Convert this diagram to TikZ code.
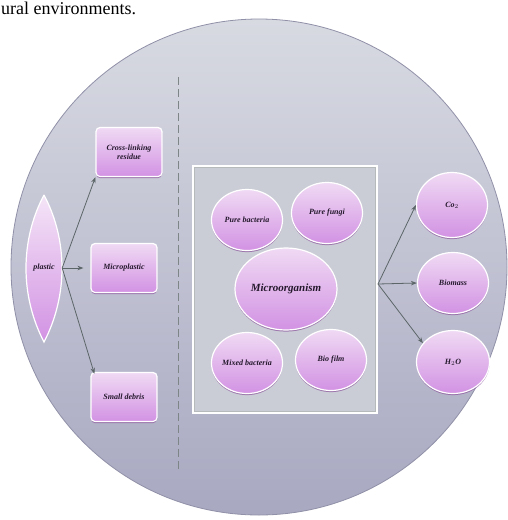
\documentclass[tikz,border=0pt]{standalone}
\usepackage{fontspec}
\setmainfont{Liberation Serif}
\usetikzlibrary{shapes.geometric,shadows,arrows.meta}
\definecolor{disctop}{HTML}{D8DAE2}
\definecolor{discbot}{HTML}{A8A8C1}
\definecolor{discedge}{HTML}{9090A8}
\definecolor{nodetop}{HTML}{F0DAF4}
\definecolor{nodebot}{HTML}{D292E3}
\definecolor{nodeedge}{HTML}{8E5CA0}
\definecolor{labeltext}{HTML}{24182C}
\definecolor{arrowgray}{HTML}{5C6668}
\definecolor{framefill}{HTML}{CBCDD6}
\tikzset{
  pinkfill/.style={top color=nodetop, bottom color=nodebot, draw=white, line width=1.2pt,
    drop shadow={shadow xshift=0pt, shadow yshift=-1.6pt, fill=nodeedge, opacity=.75}},
  box/.style={pinkfill, rounded corners=4pt, minimum width=66pt, minimum height=49pt,
    inner sep=1pt, align=center},
  oval/.style={pinkfill, ellipse, inner sep=0pt, minimum width=71pt, minimum height=61pt},
  lbl/.style={font=\fontsize{8}{9}\selectfont\itshape\bfseries, text=labeltext},
  flow/.style={-{Stealth[length=6pt,width=4.5pt]}, draw=arrowgray, line width=0.8pt}
}
\begin{document}
\begin{tikzpicture}[x=1pt,y=-1pt]
\useasboundingbox (0,0) rectangle (508,520);
\node[anchor=base west, inner sep=0pt, font=\fontsize{18}{20}\selectfont] (caption) at (1,14) {ural environments.};

\shade[top color=disctop, bottom color=discbot, draw=discedge, line width=0.8pt] (259,267) circle (248);

\coordinate (dtop) at (178,77);
\coordinate (dbot) at (178,470);
\draw[arrowgray!80, line width=1pt, dash pattern=on 8pt off 4pt] (dtop) -- (dbot);

\shade[top color=nodetop!70, bottom color=nodebot, draw=white, line width=1.2pt]
  (44,195) .. controls (68,240) and (68,296) .. (44,342) .. controls (20,296) and (20,240) .. (44,195);
\node[lbl, minimum width=36pt, inner sep=0pt] (pl) at (44,268) {plastic};

\node[box, lbl] (cross) at (129,152) {Cross-linking\\residue};
\node[box, lbl] (micro) at (124,268) {Microplastic};
\node[box, lbl] (debris) at (124,397) {Small debris};

\draw[flow] (pl.east) -- (cross.south west);
\draw[flow, shorten >=7pt] (pl.east) -- (micro.west);
\draw[flow] (pl.east) -- ([shift={(4pt,-2pt)}]debris.north west);

\node[fill=framefill, draw=white, line width=1.8pt, minimum width=184pt, minimum height=247pt] (frame) at (285,289.5) {};
\draw[arrowgray!45, line width=0.6pt] ([shift={(2.5pt,-2.5pt)}]frame.north west) rectangle ([shift={(-2.5pt,2.5pt)}]frame.south east);

\node[oval, lbl] (pbac) at (247,220) {Pure bacteria};
\node[oval, lbl] (pfun) at (327,213) {Pure fungi};
\node[oval, lbl, minimum width=102pt, minimum height=82pt, font=\fontsize{11}{12}\selectfont\itshape\bfseries] (mo) at (286,289) {Microorganism};
\node[oval, lbl] (mbac) at (247,363) {Mixed bacteria};
\node[oval, lbl] (bio) at (331,360) {Bio film};

\node[oval, lbl, minimum height=65pt] (co) at (452,205) {Co$_2$};
\node[oval, lbl] (mass) at (453,283) {Biomass};
\node[oval, lbl, minimum width=73pt, minimum height=63pt] (water) at (453,362) {H$_2$O};

\coordinate (hub) at (378,284);
\draw[flow] (hub) -- (co.west);
\draw[flow] (hub) -- (mass.west);
\draw[flow] (hub) -- (water.148);
\end{tikzpicture}
\end{document}
